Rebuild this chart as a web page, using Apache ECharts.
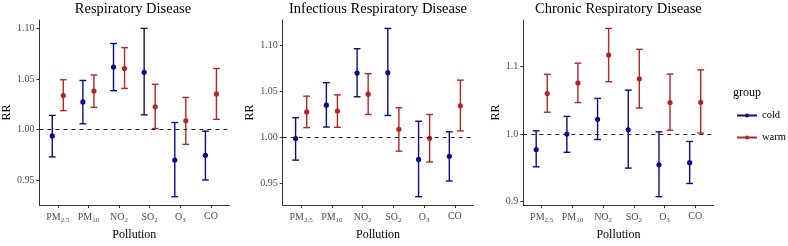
<!DOCTYPE html>
<html>
<head>
<meta charset="utf-8">
<script src="https://cdn.jsdelivr.net/npm/echarts@6/dist/echarts.min.js"></script>
<style>
  html, body { margin: 0; padding: 0; background: #fff; }
  #chart { width: 788px; height: 246px; }
</style>
</head>
<body>
<div id="chart"></div>
<script>
const categories = ["PM2.5", "PM10", "NO2", "SO2", "O3", "CO"];

// Respiratory Disease
const respColdRR = [0.9937, 1.0273, 1.0618, 1.0565, 0.9699, 0.9746];
const respColdLow = [0.9730, 1.0057, 1.0384, 1.0146, 0.9337, 0.9502];
const respColdHigh = [1.0140, 1.0485, 1.0850, 1.0999, 1.0070, 0.9984];
const respWarmRR = [1.0336, 1.0381, 1.0603, 1.0225, 1.0086, 1.0352];
const respWarmLow = [1.0187, 1.0219, 1.0406, 1.0010, 0.9854, 1.0101];
const respWarmHigh = [1.0492, 1.0539, 1.0809, 1.0447, 1.0317, 1.0603];

// Infectious Respiratory Disease
const infColdRR = [0.9986, 1.0351, 1.0701, 1.0705, 0.9758, 0.9793];
const infColdLow = [0.9751, 1.0112, 1.0442, 1.0238, 0.9352, 0.9523];
const infColdHigh = [1.0214, 1.0596, 1.0967, 1.1188, 1.0175, 1.0060];
const infWarmRR = [1.0277, 1.0287, 1.0470, 1.0088, 0.9989, 1.0343];
const infWarmLow = [1.0105, 1.0109, 1.0249, 0.9849, 0.9730, 1.0070];
const infWarmHigh = [1.0449, 1.0463, 1.0694, 1.0322, 1.0249, 1.0624];

// Chronic Respiratory Disease
const chrColdRR = [0.9771, 1.0000, 1.0219, 1.0062, 0.9543, 0.9576];
const chrColdLow = [0.9514, 0.9729, 0.9919, 0.9495, 0.9071, 0.9267];
const chrColdHigh = [1.0048, 1.0262, 1.0529, 1.0652, 1.0033, 0.9890];
const chrWarmRR = [1.0600, 1.0757, 1.1171, 1.0819, 1.0467, 1.0471];
const chrWarmLow = [1.0324, 1.0467, 1.0776, 1.0386, 1.0057, 1.0014];
const chrWarmHigh = [1.0886, 1.1052, 1.1567, 1.1257, 1.0890, 1.0952];

const respTicks = [0.95, 1.00, 1.05, 1.10];
const infTicks = [0.95, 1.00, 1.05, 1.10];
const chrTicks = [0.9, 1.0, 1.1];

const COLD = "#0b0b8a";
const WARM = "#b52525";
const FONT = '"Liberation Serif", "DejaVu Serif", serif';

const panels = [
  { title: "Respiratory Disease", left: 36.7, width: 192.6, min: 0.9254, max: 1.1082, ticks: respTicks, digits: 2, nameGap: 25,
    cold: [respColdRR, respColdLow, respColdHigh], warm: [respWarmRR, respWarmLow, respWarmHigh] },
  { title: "Infectious Respiratory Disease", left: 282.7, width: 190.6, min: 0.926, max: 1.128, ticks: infTicks, digits: 2, nameGap: 26,
    cold: [infColdRR, infColdLow, infColdHigh], warm: [infWarmRR, infWarmLow, infWarmHigh] },
  { title: "Chronic Respiratory Disease", left: 523.3, width: 190.3, min: 0.8946, max: 1.1692, ticks: chrTicks, digits: 1, nameGap: 21.5,
    cold: [chrColdRR, chrColdLow, chrColdHigh], warm: [chrWarmRR, chrWarmLow, chrWarmHigh] },
];

const subLabels = {
  "PM2.5": "PM{s|2.5}", "PM10": "PM{s|10}", "NO2": "NO{s|2}",
  "SO2": "SO{s|2}", "O3": "O{s|3}", "CO": "CO",
};

function errorBar(offset) {
  return (params, api) => {
    const x = api.value(0) + offset;
    const mid = api.coord([x, api.value(1)]);
    const low = api.coord([x, api.value(2)]);
    const high = api.coord([x, api.value(3)]);
    const color = api.visual("color");
    const hw = 3.4;
    const stroke = { stroke: color, lineWidth: 1.4 };
    return {
      type: "group",
      children: [
        { type: "line", shape: { x1: mid[0], y1: high[1], x2: mid[0], y2: low[1] }, style: stroke },
        { type: "line", shape: { x1: mid[0] - hw, y1: high[1], x2: mid[0] + hw, y2: high[1] }, style: stroke },
        { type: "line", shape: { x1: mid[0] - hw, y1: low[1], x2: mid[0] + hw, y2: low[1] }, style: stroke },
        { type: "circle", shape: { cx: mid[0], cy: mid[1], r: 2.6 }, style: { fill: color } },
      ],
    };
  };
}

const grid = [], xAxis = [], yAxis = [], series = [], title = [];
const axisLine = { show: true, lineStyle: { color: "#333", width: 1 } };
const axisTick = { show: true, length: 3, lineStyle: { color: "#333", width: 1 } };

panels.forEach((p, i) => {
  grid.push({ left: p.left, width: p.width, top: 20, height: 193.3 });
  title.push({
    text: p.title, left: p.left + p.width / 2, top: 2, textAlign: "center", padding: 0,
    textStyle: { fontFamily: FONT, fontSize: 14.5, fontWeight: "normal", color: "#000" },
  });
  xAxis.push({
    gridIndex: i, type: "value", min: 0.4, max: 6.6,
    name: "Pollution", nameLocation: "middle", nameGap: 22,
    nameTextStyle: { fontFamily: FONT, fontSize: 12, color: "#000" },
    axisLine, splitLine: { show: false },
    axisTick: { ...axisTick, customValues: [1, 2, 3, 4, 5, 6] },
    axisLabel: {
      customValues: [1, 2, 3, 4, 5, 6], margin: 6,
      fontFamily: FONT, fontSize: 10, color: "#4d4d4d",
      formatter: (v) => subLabels[categories[Math.round(v) - 1]],
      rich: { s: { fontFamily: FONT, fontSize: 7, color: "#4d4d4d", padding: [6, 0, 0, 0] } },
    },
  });
  yAxis.push({
    gridIndex: i, type: "value", min: p.min, max: p.max,
    name: "RR", nameLocation: "middle", nameRotate: 90, nameGap: p.nameGap,
    nameTextStyle: { fontFamily: FONT, fontSize: 12, color: "#000" },
    axisLine, splitLine: { show: false },
    axisTick: { ...axisTick, customValues: p.ticks },
    axisLabel: {
      customValues: p.ticks, margin: 5,
      fontFamily: FONT, fontSize: 10, color: "#4d4d4d",
      formatter: (v) => v.toFixed(p.digits),
    },
  });
  [["cold", COLD, -0.18], ["warm", WARM, 0.18]].forEach(([g, color, off], k) => {
    const [rr, low, high] = p[g];
    series.push({
      type: "custom", name: g + "-ci-" + i, xAxisIndex: i, yAxisIndex: i,
      color, encode: { x: 0, y: 1 },
      renderItem: errorBar(off),
      data: categories.map((c, j) => [j + 1, rr[j], low[j], high[j]]),
      z: 3,
      markLine: k === 0 ? {
        silent: true, symbol: "none", label: { show: false },
        lineStyle: { color: "#222", type: [4, 4], width: 1 },
        data: [{ yAxis: 1 }],
      } : undefined,
    });
  });
});

// legend-only series
series.push(
  { type: "line", name: "cold", xAxisIndex: 2, yAxisIndex: 2, data: [], color: COLD,
    symbol: "circle", symbolSize: 5, lineStyle: { width: 1.3 } },
  { type: "line", name: "warm", xAxisIndex: 2, yAxisIndex: 2, data: [], color: WARM,
    symbol: "circle", symbolSize: 5, lineStyle: { width: 1.3 } },
);

title.push({
  text: "group", left: 733, top: 87, padding: 0,
  textStyle: { fontFamily: FONT, fontSize: 12, fontWeight: "normal", color: "#000" },
});

const chart = echarts.init(document.getElementById("chart"), null, { renderer: "canvas" });
chart.setOption({
  animation: false,
  backgroundColor: "#fff",
  title,
  grid, xAxis, yAxis, series,
  legend: {
    data: ["cold", "warm"], orient: "vertical", left: 736, top: 110,
    itemWidth: 20, itemHeight: 5, itemGap: 11, padding: 0, selectedMode: false,
    textStyle: { fontFamily: FONT, fontSize: 10.5, color: "#000" },
  },
});
</script>
</body>
</html>
